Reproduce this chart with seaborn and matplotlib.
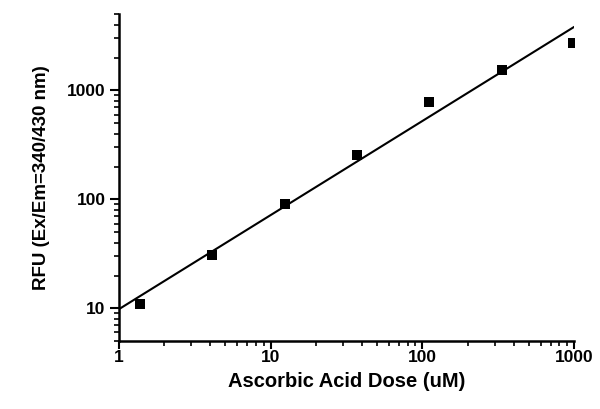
import numpy as np
import pandas as pd
import matplotlib
matplotlib.use("Agg")
import matplotlib.pyplot as plt
import seaborn as sns
from matplotlib.ticker import LogLocator, NullFormatter, FixedLocator, FixedFormatter

dose_um = [1.37, 4.12, 12.35, 37.0, 111.0, 333.0, 980.0]
rfu = [11.0, 31.0, 91.0, 255.0, 790.0, 1530.0, 2750.0]
x_ticks = [1, 10, 100, 1000]
x_tick_labels = ["1", "10", "100", "1000"]
y_ticks = [10, 100, 1000]
y_tick_labels = ["10", "100", "1000"]

sns.set_style("ticks")
plt.rcParams['font.family'] = ['Liberation Sans', 'DejaVu Sans']
plt.rcParams['font.weight'] = 'bold'
plt.rcParams['text.color'] = 'black'
plt.rcParams['axes.labelcolor'] = 'black'
plt.rcParams['xtick.color'] = 'black'
plt.rcParams['ytick.color'] = 'black'

df = pd.DataFrame({"dose": dose_um, "rfu": rfu})

# log-log linear fit
slope, intercept = np.polyfit(np.log10(df["dose"]), np.log10(df["rfu"]), 1)
fit_x = np.logspace(0, 3, 50)
fit_df = pd.DataFrame({"dose": fit_x, "rfu": 10 ** (intercept + slope * np.log10(fit_x))})

fig = plt.figure(figsize=(6.0, 4.09), dpi=100)
ax = fig.add_axes([0.198, 0.166, 0.759, 0.799])

sns.lineplot(data=fit_df, x="dose", y="rfu", ax=ax, color="black", linewidth=1.5)
sns.scatterplot(data=df, x="dose", y="rfu", ax=ax, marker="s", s=60, color="black",
                edgecolor="black", linewidth=0, zorder=3)

ax.set_xscale("log")
ax.set_yscale("log")
ax.set_xlim(1, 1000)
ax.set_ylim(5, 5000)

ax.xaxis.set_major_locator(FixedLocator(x_ticks))
ax.xaxis.set_major_formatter(FixedFormatter(x_tick_labels))
ax.yaxis.set_major_locator(FixedLocator(y_ticks))
ax.yaxis.set_major_formatter(FixedFormatter(y_tick_labels))
ax.xaxis.set_minor_locator(LogLocator(base=10, subs=np.arange(2, 10), numticks=20))
ax.yaxis.set_minor_locator(LogLocator(base=10, subs=np.arange(2, 10), numticks=20))
ax.xaxis.set_minor_formatter(NullFormatter())
ax.yaxis.set_minor_formatter(NullFormatter())

for s in ["top", "right"]:
    ax.spines[s].set_visible(False)
for s in ["left", "bottom"]:
    ax.spines[s].set_linewidth(1.8)
    ax.spines[s].set_color("black")

ax.tick_params(axis="x", which="major", length=5.5, width=1.5, labelsize=12.5, pad=1)
ax.tick_params(axis="y", which="major", length=6.5, width=1.5, labelsize=12.5, pad=3)
ax.tick_params(axis="both", which="minor", length=3.5, width=1.2)
for lab in ax.get_xticklabels() + ax.get_yticklabels():
    lab.set_fontweight("bold")
    lab.set_color("black")

ax.set_xlabel("Ascorbic Acid Dose (uM)", fontsize=14.5, fontweight="bold", labelpad=5, color="black")
ax.set_ylabel("RFU (Ex/Em=340/430 nm)", fontsize=13.5, fontweight="bold", labelpad=12, color="black")

fig.savefig("out.png", dpi=100)
